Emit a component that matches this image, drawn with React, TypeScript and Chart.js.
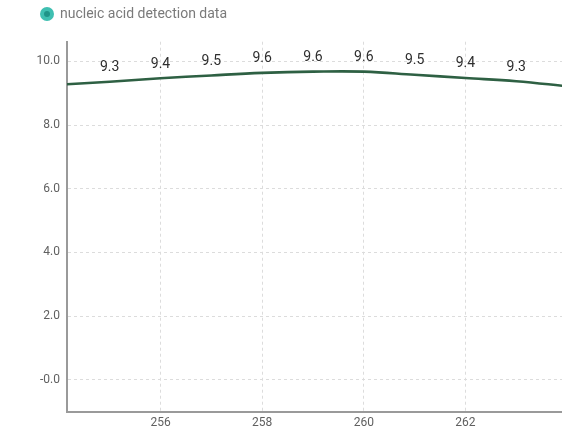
import React, { useEffect, useRef } from "react";
import { Chart, registerables } from "chart.js";

Chart.register(...registerables);

const seriesName = "nucleic acid detection data";
const xValues = [254, 255, 256, 257, 258, 259, 260, 261, 262, 263, 264];
const yValues = [9.27, 9.36, 9.47, 9.56, 9.64, 9.68, 9.68, 9.58, 9.48, 9.38, 9.22];
const xTicks = [256, 258, 260, 262];
const yTicks = [0, 2, 4, 6, 8, 10];
const yTickLabels = ["-0.0", "2.0", "4.0", "6.0", "8.0", "10.0"];

const FONT = "Roboto, 'Noto Sans', sans-serif";

const fmt = (v: number) => (Math.floor(v * 10 + 1e-9) / 10).toFixed(1);

const legendPlugin = {
  id: "customLegend",
  afterDraw(chart: any) {
    const ctx = chart.ctx;
    ctx.save();
    ctx.beginPath();
    ctx.arc(47, 14, 7, 0, Math.PI * 2);
    ctx.fillStyle = "#3fbfb1";
    ctx.fill();
    ctx.beginPath();
    ctx.arc(47, 14, 3, 0, Math.PI * 2);
    ctx.fillStyle = "#1f9488";
    ctx.fill();
    ctx.font = `14px ${FONT}`;
    ctx.fillStyle = "#7a7a7a";
    ctx.textAlign = "left";
    ctx.textBaseline = "middle";
    ctx.fillText(seriesName, 60, 14);
    ctx.restore();
  },
};

const labelPlugin = {
  id: "pointLabels",
  afterDatasetsDraw(chart: any) {
    const ctx = chart.ctx;
    const area = chart.chartArea;
    const meta = chart.getDatasetMeta(0);
    ctx.save();
    ctx.font = `14px ${FONT}`;
    ctx.fillStyle = "#2e2e2e";
    ctx.textAlign = "center";
    ctx.textBaseline = "middle";
    meta.data.forEach((pt: any, i: number) => {
      if (pt.x < area.left || pt.x > area.right) return;
      ctx.fillText(fmt(yValues[i]), pt.x, pt.y - 14);
    });
    ctx.restore();
  },
};

export default function App() {
  const ref = useRef<HTMLCanvasElement | null>(null);
  useEffect(() => {
    document.body.style.margin = "0";
    const canvas = ref.current!;
    const chart = new Chart(canvas, {
      type: "line",
      data: {
        datasets: [
          {
            label: seriesName,
            data: xValues.map((x, i) => ({ x, y: yValues[i] })),
            borderColor: "#2e6043",
            borderWidth: 2.6,
            pointRadius: 0,
            tension: 0.4,
            fill: false,
          },
        ],
      },
      options: {
        animation: false,
        responsive: false,
        maintainAspectRatio: false,
        layout: { padding: { top: 41.7, right: 0, left: 0, bottom: 0 } },
        plugins: { legend: { display: false }, tooltip: { enabled: false } },
        scales: {
          x: {
            type: "linear",
            min: 254.16,
            max: 263.9,
            afterBuildTicks: (s: any) => {
              s.ticks = xTicks.map((v) => ({ value: v }));
            },
            afterFit: (s: any) => {
              s.height = 22.3;
            },
            ticks: {
              font: { family: FONT, size: 12 },
              color: "#606060",
              padding: 4,
              callback: (v: any) => String(v),
            },
            grid: { color: "#dcdcdc", lineWidth: 1, drawTicks: false },
            border: { display: true, color: "#9a9a9a", width: 2, dash: [3, 3] },
          },
          y: {
            type: "linear",
            min: -1,
            max: 10.62,
            afterBuildTicks: (s: any) => {
              s.ticks = yTicks.map((v) => ({ value: v }));
            },
            afterFit: (s: any) => {
              s.width = 67;
            },
            ticks: {
              font: { family: FONT, size: 12 },
              color: "#606060",
              padding: 7,
              callback: (v: any) => {
                const i = yTicks.indexOf(Number(v));
                return i >= 0 ? yTickLabels[i] : "";
              },
            },
            grid: { color: "#dcdcdc", lineWidth: 1, drawTicks: false },
            border: { display: true, color: "#9a9a9a", width: 2, dash: [3, 3] },
          },
        },
      },
      plugins: [legendPlugin, labelPlugin],
    });
    return () => chart.destroy();
  }, []);
  return (
    <div style={{ width: 562, height: 434, background: "#fff" }}>
      <canvas ref={ref} width={562} height={434} style={{ display: "block" }} />
    </div>
  );
}
